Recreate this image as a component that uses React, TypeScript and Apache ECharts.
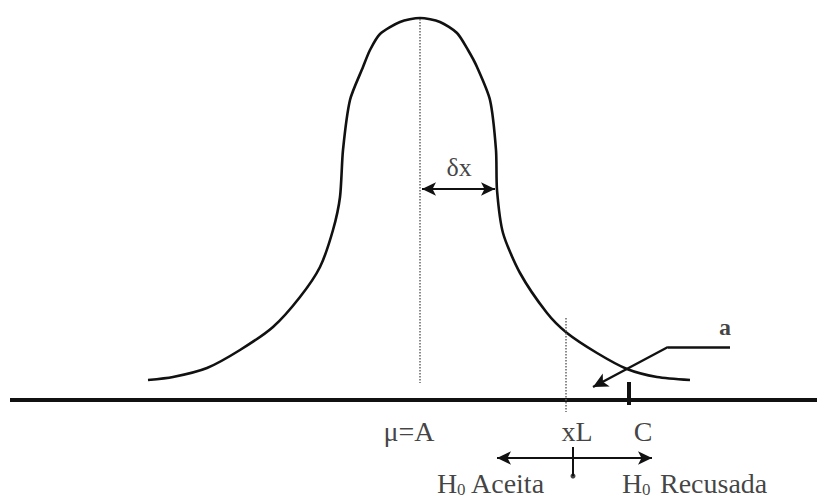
import React, { useEffect, useRef } from "react";
import * as echarts from "echarts";

// Bell curve (x, height above the axis)
const curveX = [148, 173, 207, 240, 273, 300, 320, 333, 340, 343, 350, 363, 370, 380, 400, 420, 440, 457, 468, 477, 490, 496, 497, 503, 520, 547, 567, 597, 627, 657, 690];
const curveY = [20, 23, 32, 50, 73, 103, 133, 170, 203, 250, 300, 333, 350, 366, 378, 382, 378, 367, 350, 333, 300, 250, 210, 167, 127, 87, 67, 47, 31, 23, 20];

// Key positions on the axis
const meanX = 420; // μ = A
const limitX = 567; // xL
const criticalX = 628; // C
const deltaX = 497; // μ + δx

const axisLabels = ["μ=A", "xL", "C"];
const hypothesis = ["H", "0"];
const decisions = ["Aceita", "Recusada"];
const tailLabel = "a";
const spreadLabel = "δx";

const INK = "#111111";
const SERIF = "'Liberation Serif', 'Times New Roman', serif";

export default function App() {
  const ref = useRef<HTMLDivElement>(null);
  useEffect(() => {
    if (!ref.current) return;
    const chart = echarts.init(ref.current, null, { renderer: "svg" });
    const curve = curveX.map((x, i) => [x, curveY[i]]);
    const textPoint = (x: number, y: number, text: string, extra: any = {}) => ({
      value: [x, y],
      label: {
        show: true,
        position: "inside",
        formatter: text,
        color: INK,
        fontFamily: SERIF,
        fontSize: 28,
        ...extra,
      },
    });
    const left = { align: "left", fontSize: 28, lineHeight: 26 };
    const subStyle = { align: "left", fontSize: 17, lineHeight: 14 };
    chart.setOption({
      animation: false,
      backgroundColor: "#ffffff",
      grid: { left: 0, right: 0, top: 0, bottom: 0 },
      xAxis: { type: "value", min: 0, max: 817, show: false },
      yAxis: { type: "value", min: -100, max: 400, show: false },
      series: [
        {
          name: "axis",
          type: "line",
          data: [[10, 0], [817, 0]],
          symbol: "none",
          lineStyle: { color: INK, width: 4 },
          silent: true,
          markLine: {
            silent: true,
            symbol: ["arrow", "arrow"],
            symbolSize: [10, 14],
            label: { show: false },
            lineStyle: { color: INK, width: 2, type: "solid" },
            data: [
              [{ coord: [meanX + 2, 211] }, { coord: [deltaX - 2, 211] }],
              [{ coord: [deltaX, -58] }, { coord: [652, -58] }],
            ],
          },
        },
        {
          name: "annotation",
          type: "line",
          data: [],
          markLine: {
            silent: true,
            label: { show: false },
            lineStyle: { color: INK, width: 2.5, type: "solid" },
            data: [
              [
                { coord: [730, 53], symbol: "none" },
                { coord: [668, 53], symbol: "none" },
              ],
              [
                { coord: [668, 53], symbol: "none" },
                { coord: [593, 13], symbol: "arrow", symbolSize: [11, 15] },
              ],
            ],
          },
        },
        {
          name: "curve",
          type: "line",
          data: curve,
          smooth: 0.25,
          symbol: "none",
          lineStyle: { color: INK, width: 2.6 },
        },
        {
          name: "mean",
          type: "line",
          data: [[meanX, 381], [meanX, 17]],
          symbol: "none",
          lineStyle: { color: "#666", width: 1.5, type: "dotted" },
        },
        {
          name: "limit",
          type: "line",
          data: [[limitX - 1, 82], [limitX - 1, -12]],
          symbol: "none",
          lineStyle: { color: "#666", width: 1.5, type: "dotted" },
        },
        {
          name: "critical",
          type: "line",
          data: [[criticalX + 1, 18], [criticalX + 1, -5]],
          symbol: "none",
          lineStyle: { color: INK, width: 4 },
        },
        {
          name: "split",
          type: "line",
          data: [[limitX + 6, -47], [limitX + 6, -76]],
          symbol: "none",
          lineStyle: { color: INK, width: 2 },
        },
        {
          name: "splitDot",
          type: "scatter",
          data: [[limitX + 6, -76]],
          symbolSize: 5,
          itemStyle: { color: INK },
        },
        {
          name: "labels",
          type: "scatter",
          symbolSize: 0,
          silent: true,
          data: [
            textPoint(meanX - 11, -31, axisLabels[0]),
            textPoint(limitX + 10, -31, axisLabels[1]),
            textPoint(criticalX + 15, -31, axisLabels[2]),
            textPoint(deltaX - 38, 233, spreadLabel, { fontSize: 26 }),
            textPoint(725, 73, tailLabel, { fontWeight: "bold", fontSize: 24 }),
            // H0 Aceita
            textPoint(437, -83, hypothesis[0], left),
            textPoint(457, -89, hypothesis[1], subStyle),
            textPoint(471, -83, decisions[0], left),
            // H0 Recusada
            textPoint(622, -83, hypothesis[0], left),
            textPoint(642, -89, hypothesis[1], subStyle),
            textPoint(660, -83, decisions[1], left),
          ],
        },
      ],
    });
    return () => chart.dispose();
  }, []);
  return (
    <div
      ref={ref}
      style={{ position: "absolute", left: 0, top: 0, width: 817, height: 500, background: "#fff" }}
    />
  );
}
